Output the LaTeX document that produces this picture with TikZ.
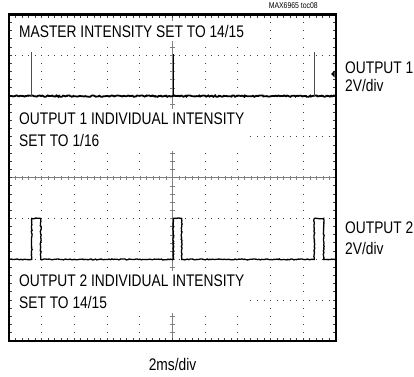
\documentclass[tikz,border=0pt]{standalone}
\usepackage{fontspec}
\setmainfont{Liberation Sans}[FakeStretch=0.82]
\usetikzlibrary{decorations.pathmorphing}
\tikzstyle{note} = [fill=white, inner sep=4pt, align=left, anchor=north west, font=\fontsize{16.8}{22}\selectfont]
\tikzstyle{chlabel} = [inner sep=0pt, align=left, anchor=north west]
\tikzstyle{griddot} = [black!75, line width=1pt]
\tikzstyle{axis} = [black!50, line width=0.6pt]
\tikzstyle{trace} = [line width=1.8pt, decorate, decoration={random steps, segment length=1.4pt, amplitude=0.7pt}]
\tikzstyle{spike} = [black!70, line width=0.7pt]

\begin{document}
\begin{tikzpicture}[x=1pt, y=-1pt]
    \pgfmathsetseed{7}
    \useasboundingbox (0,0) rectangle (414,376);

    \foreach \k in {1,2,3,4,6,7,8,9}
        \draw [griddot, dash pattern=on 1pt off 7.16pt, dash phase=0.5pt] (9+32.7*\k, 14.5) -- (9+32.7*\k, 341);
    \foreach \k in {1,2,3,5,6,7}
        \draw [griddot, dash pattern=on 1pt off 5.54pt, dash phase=0.5pt] (9, 14.5+40.8*\k) -- (336, 14.5+40.8*\k);

    \draw [axis] (9, 177.7) -- (336, 177.7);
    \draw [axis] (172.5, 14.5) -- (172.5, 341);
    \foreach \i in {1,...,49} {
        \draw [axis] (9+6.54*\i, 175.5) -- ++(0, 4.4);
        \draw [griddot] (9+6.54*\i, 15.7) -- ++(0, 1.8);
        \draw [griddot] (9+6.54*\i, 339.8) -- ++(0, -1.8);
    }
    \foreach \i in {1,...,39} {
        \draw [axis] (170.3, 14.5+8.16*\i) -- ++(4.4, 0);
        \draw [griddot] (10.2, 14.5+8.16*\i) -- ++(1.8, 0);
        \draw [griddot] (334.8, 14.5+8.16*\i) -- ++(-1.8, 0);
    }

    \draw [trace] (10.2, 96.1) -- (334.8, 96.1);
    \draw [spike] (31.7, 96.1) -- (31.7, 52);
    \draw [line width=1.1pt] (173.2, 96.1) -- (173.2, 53.5);
    \draw [spike] (314.7, 96.1) -- (314.7, 52);
    \fill (331, 74) -- (334.6, 70.5) -- (334.6, 77.5) -- cycle;

    \draw [trace, line width=1.3pt, decoration={amplitude=0.5pt}] (10.2, 259.4) -- (31.7, 259.4) -- (31.7, 218.4) -- (40.7, 218.4) -- (40.7, 259.4)
        -- (173.3, 259.4) -- (173.3, 218.4) -- (181.7, 218.4) -- (181.7, 259.4)
        -- (314.3, 259.4) -- (314.3, 218.4) -- (323.7, 218.4) -- (323.7, 259.4) -- (334.8, 259.4);

    \draw [line width=2.4pt] (9, 14.5) rectangle (336, 341);

    \node (master) [note, anchor=base west] at (15, 37) {MASTER INTENSITY SET TO 14/15};
    \node (out1note) [note] at (15, 109) {OUTPUT 1 INDIVIDUAL INTENSITY\\SET TO 1/16};
    \node (out2note) [note] at (15, 271) {OUTPUT 2 INDIVIDUAL INTENSITY\\SET TO 14/15};

    \node (out1lbl) [chlabel, font=\fontsize{16.8}{18}\selectfont] at (345, 62) {OUTPUT 1\\2V/div};
    \node (out2lbl) [chlabel, font=\fontsize{16.8}{20.5}\selectfont] at (345, 222) {OUTPUT 2\\2V/div};
    \node (timebase) [anchor=base, inner sep=0pt, font=\fontsize{16.8}{20}\selectfont] at (172.5, 370.7) {2ms/div};
    \node (tocid) [anchor=base east, inner sep=0pt, font=\fontsize{8.4}{10}\selectfont] at (318, 8.8) {MAX6965 toc08};

\end{tikzpicture}
\end{document}
